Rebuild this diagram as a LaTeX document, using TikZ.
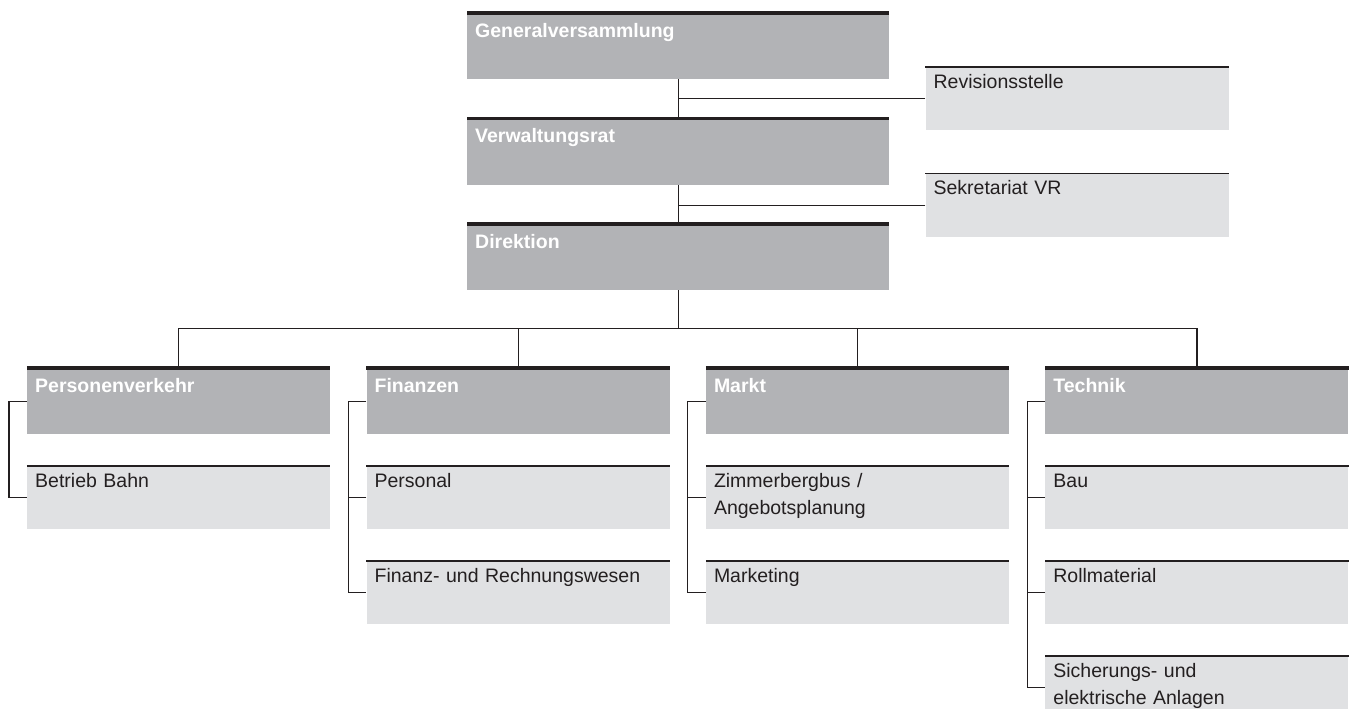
\documentclass[tikz,border=0pt]{standalone}
\usepackage{fontspec}
\setmainfont{Liberation Sans}
\usepackage{tikz}
\usetikzlibrary{positioning, calc}
\definecolor{headgray}{RGB}{178,179,182}
\definecolor{subgray}{RGB}{224,225,227}
\definecolor{ink}{RGB}{35,31,32}

\begin{document}
\begin{tikzpicture}[
    node distance=31.5pt and 36pt,
    headbox/.style={
        fill=headgray,
        anchor=north west,
        inner sep=0pt, inner xsep=8pt,
        text width=287pt,
        text height=24pt, text depth=42pt,
        align=left,
        text=white,
        font=\fontsize{19.5}{27}\selectfont\bfseries
    },
    topbox/.style={headbox, text width=406pt},
    subbox/.style={
        fill=subgray,
        anchor=north west,
        inner sep=0pt, inner xsep=8pt,
        text width=287pt,
        text height=21pt, text depth=42pt,
        align=left,
        text=ink,
        font=\fontsize{19.5}{27}\selectfont
    },
    conn/.style={draw=ink, line width=1.2pt},
    headline/.style={draw=ink, line width=3.5pt},
    subline/.style={draw=ink, line width=1.5pt}
]
\useasboundingbox (-467pt,13pt) rectangle (887pt,-696pt);

\node[topbox] (gv) at (0,0) {Generalversammlung};
\node[topbox, below=39pt of gv] (vr) {Verwaltungsrat};
\node[topbox, below=39pt of vr] (dir) {Direktion};
\node[subbox, below right=54pt and 36pt of gv.north east] (rev) {Revisionsstelle};
\node[subbox, below right=55pt and 36pt of vr.north east] (sek) {Sekretariat VR};

\node[headbox] (pv) at ($(dir.south west)+(-440pt,-78pt)$) {Personenverkehr};
\node[headbox, right=of pv] (fin) {Finanzen};
\node[headbox, right=of fin] (mkt) {Markt};
\node[headbox, right=of mkt] (tec) {Technik};

\node[subbox, below=of pv] (bahn) {Betrieb Bahn};
\node[subbox, below=of fin] (pers) {Personal};
\node[subbox, below=of pers] (rewe) {Finanz- und Rechnungswesen};
\node[subbox, below=of mkt] (zbus) {Zimmerbergbus /\\Angebotsplanung};
\node[subbox, below=of zbus] (mark) {Marketing};
\node[subbox, below=of tec] (bau) {Bau};
\node[subbox, below=of bau] (roll) {Rollmaterial};
\node[subbox, below=of roll] (sich) {Sicherungs- und\\elektrische Anlagen};

\foreach \n in {gv,vr,dir,pv,fin,mkt,tec}
    \draw[headline] (\n.north west) -- (\n.north east);
\foreach \n in {rev,sek,bahn,pers,rewe,zbus,mark,bau,roll,sich}
    \draw[subline] (\n.north west) -- (\n.north east);

\draw[conn] (gv.south) -- (vr.north);
\draw[conn] (vr.south) -- (dir.north);
\draw[conn] (rev.west) -- (rev.west -| gv.south);
\draw[conn] (sek.west) -- (sek.west -| vr.south);
\draw[conn] (dir.south) -- ++(0,-38pt) coordinate (split);
\foreach \n in {pv,fin,mkt,tec}
    \draw[conn] (split) -| (\n.north);

\draw[conn] (pv.west) -- ++(-18pt,0) |- (bahn.west);
\draw[conn] (fin.west) -- ++(-18pt,0) |- (rewe.west);
\draw[conn] (pers.west) -- ++(-18pt,0);
\draw[conn] (mkt.west) -- ++(-18pt,0) |- (mark.west);
\draw[conn] (zbus.west) -- ++(-18pt,0);
\draw[conn] (tec.west) -- ++(-18pt,0) |- (sich.west);
\draw[conn] (bau.west) -- ++(-18pt,0);
\draw[conn] (roll.west) -- ++(-18pt,0);

\end{tikzpicture}
\end{document}
